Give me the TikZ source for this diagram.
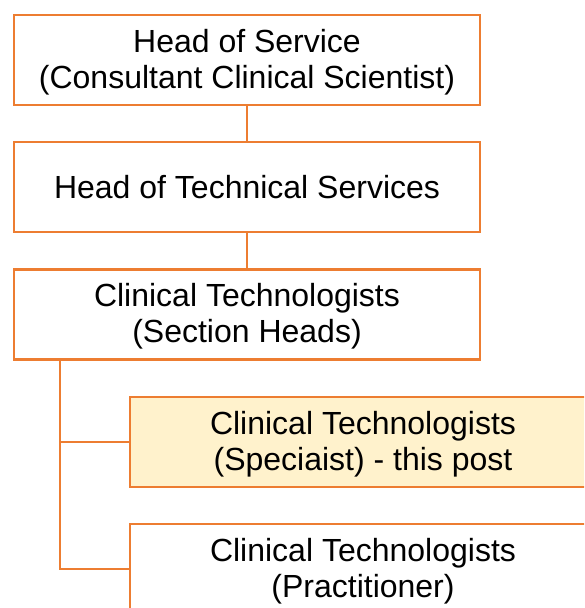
\documentclass[tikz,border=0pt]{standalone}
\usepackage{fontspec}
\setmainfont{Liberation Sans}
\usetikzlibrary{positioning}
\definecolor{postorange}{HTML}{ED7D31}
\definecolor{thispost}{HTML}{FFF2CC}
\tikzset{
    post/.style={shape=rectangle,draw=postorange,line width=2.2pt,minimum width=466pt,minimum height=90pt,inner sep=2pt,align=center,font=\fontsize{32}{36}\selectfont},
    twoline/.style={text height=63.5pt},
    link/.style={draw=postorange,line width=2.2pt}
}

\begin{document}
\begin{tikzpicture}[x=1pt,y=1pt,node distance=35pt]
    \useasboundingbox (0,0) rectangle (584,-608);
    \clip (0,0) rectangle (584,-608);
    \node[post,twoline] (HoS) at (247,-60) {Head of Service\\(Consultant Clinical Scientist)};
    \node[post,below=of HoS] (HoTS) {Head of Technical Services};
    \node[post,twoline,below=of HoTS] (heads) {Clinical Technologists\\(Section Heads)};
    \node[post,twoline,fill=thispost,below=35pt of heads,xshift=116pt] (spec) {Clinical Technologists\\(Speciaist) - this post};
    \node[post,twoline,below=of spec] (prac) {Clinical Technologists\\(Practitioner)};
    \coordinate (branch) at ([xshift=47pt]heads.south west);

    \path[link] (HoS) edge (HoTS);
    \path[link] (HoTS) edge (heads);
    \draw[link] (branch) |- (spec.west);
    \draw[link] (branch) |- (prac.west);
\end{tikzpicture}
\end{document}
